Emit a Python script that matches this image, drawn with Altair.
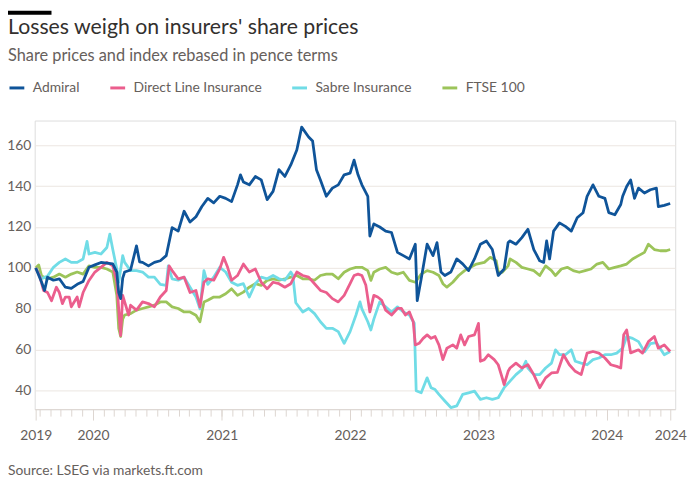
import altair as alt
import pandas as pd

TITLE = "Losses weigh on insurers' share prices"
SUBTITLE = "Share prices and index rebased in pence terms"
SOURCE = "Source: LSEG via markets.ft.com"
SERIES = ["Admiral", "Direct Line Insurance", "Sabre Insurance", "FTSE 100"]
COLORS = ["#0f5499", "#eb5e8d", "#70dce6", "#9cc45a"]
DRAW_ORDER = ["FTSE 100", "Sabre Insurance", "Direct Line Insurance", "Admiral"]
Y_TICKS = [40, 60, 80, 100, 120, 140, 160]
YEAR_TICKS = [2020, 2021, 2022, 2023, 2024]

# (decimal year, rebased value)
ADMIRAL = [(2019.554, 100), (2019.600, 93), (2019.623, 89), (2019.646, 95.5), (2019.692, 94), (2019.738, 94.7),
           (2019.785, 90.6), (2019.831, 90), (2019.877, 92), (2019.923, 93.4), (2019.969, 100.3), (2020.015, 101.5),
           (2020.062, 102.7), (2020.108, 102.4), (2020.154, 102), (2020.185, 98), (2020.200, 88), (2020.215, 85),
           (2020.231, 95), (2020.246, 98), (2020.292, 99), (2020.338, 110.8), (2020.362, 103), (2020.385, 102.7),
           (2020.431, 101), (2020.477, 102.7), (2020.523, 103.5), (2020.569, 106), (2020.615, 119.7), (2020.662, 118),
           (2020.708, 127.7), (2020.754, 122.4), (2020.800, 125), (2020.846, 130), (2020.892, 134), (2020.938, 131.8),
           (2020.985, 135), (2021.031, 134), (2021.077, 132.4), (2021.123, 140.6), (2021.146, 145.5), (2021.169, 142),
           (2021.215, 140.6), (2021.262, 144.7), (2021.308, 143), (2021.354, 133.4), (2021.400, 137.4), (2021.446, 148),
           (2021.492, 144.7), (2021.538, 150.3), (2021.585, 157.6), (2021.623, 168.8), (2021.677, 164), (2021.708, 162),
           (2021.738, 148), (2021.769, 143), (2021.815, 135), (2021.862, 139), (2021.908, 140.6), (2021.954, 145.5),
           (2022.000, 146.3), (2022.031, 152.7), (2022.062, 145.5), (2022.092, 140.6), (2022.138, 135), (2022.154, 115.6),
           (2022.185, 121.5), (2022.231, 120), (2022.277, 118), (2022.323, 117.3), (2022.369, 107.6), (2022.415, 106),
           (2022.462, 104.4), (2022.508, 111.6), (2022.523, 84), (2022.554, 94.7), (2022.600, 111.6), (2022.646, 106),
           (2022.677, 112.4), (2022.708, 98), (2022.738, 96.3), (2022.785, 98), (2022.831, 104.4), (2022.877, 102),
           (2022.923, 98.7), (2022.969, 104.4), (2023.015, 111.6), (2023.062, 113.2), (2023.108, 109), (2023.154, 96.3),
           (2023.200, 99.5), (2023.231, 112.4), (2023.246, 113.2), (2023.292, 111.6), (2023.338, 114.8), (2023.385, 118.9),
           (2023.431, 109), (2023.477, 103.5), (2023.508, 102.7), (2023.531, 113.2), (2023.554, 104.4), (2023.585, 118),
           (2023.631, 122), (2023.677, 120.3), (2023.723, 118), (2023.769, 124.5), (2023.815, 127), (2023.846, 135),
           (2023.892, 140.6), (2023.938, 135), (2023.985, 134), (2024.015, 127), (2024.062, 126), (2024.108, 131),
           (2024.123, 135), (2024.154, 139.8), (2024.185, 143), (2024.215, 134), (2024.246, 139), (2024.292, 136.6),
           (2024.338, 138.2), (2024.385, 139), (2024.400, 130), (2024.446, 130.6), (2024.492, 131.5)]

DIRECT_LINE = [(2019.554, 100), (2019.585, 96), (2019.615, 89), (2019.646, 88), (2019.677, 84), (2019.715, 90.6),
               (2019.738, 88), (2019.762, 82.6), (2019.785, 85.8), (2019.815, 85.8), (2019.831, 81), (2019.877, 85.8),
               (2019.892, 81), (2019.923, 88), (2019.969, 93.9), (2020.015, 98), (2020.062, 100.3), (2020.108, 102.7),
               (2020.154, 101), (2020.185, 93), (2020.200, 80), (2020.215, 67), (2020.231, 86.6), (2020.246, 83.4),
               (2020.277, 77), (2020.292, 81.8), (2020.338, 79.4), (2020.385, 83.4), (2020.431, 82.6), (2020.477, 81),
               (2020.523, 85.8), (2020.569, 89), (2020.592, 101), (2020.615, 98.7), (2020.662, 94.7), (2020.708, 95.5),
               (2020.754, 88), (2020.800, 89), (2020.831, 81), (2020.862, 93), (2020.892, 94.7), (2020.938, 94),
               (2020.985, 99.5), (2021.015, 105.2), (2021.046, 100.3), (2021.077, 94), (2021.123, 96.3), (2021.169, 101.9),
               (2021.215, 98), (2021.262, 99.5), (2021.308, 93), (2021.354, 89.8), (2021.400, 93), (2021.446, 92.3),
               (2021.492, 90.6), (2021.538, 92.3), (2021.585, 98), (2021.631, 96.3), (2021.677, 95.5), (2021.723, 92.3),
               (2021.769, 89), (2021.815, 88), (2021.862, 85), (2021.908, 83.4), (2021.954, 86.6), (2022.000, 92.3),
               (2022.031, 96.3), (2022.062, 97), (2022.092, 96.3), (2022.123, 91.5), (2022.154, 78.5), (2022.185, 86.6),
               (2022.215, 85.8), (2022.246, 84.2), (2022.277, 79.4), (2022.323, 77), (2022.369, 80.2), (2022.400, 80.2),
               (2022.431, 77), (2022.462, 78.5), (2022.492, 73.7), (2022.508, 62.4), (2022.538, 63.2), (2022.569, 65.6),
               (2022.600, 67.3), (2022.631, 65.6), (2022.662, 66.5), (2022.692, 62.4), (2022.723, 55.2), (2022.754, 60.8),
               (2022.800, 62.4), (2022.831, 60.8), (2022.862, 67.3), (2022.892, 62.4), (2022.923, 66.5), (2022.969, 67.3),
               (2023.000, 72.9), (2023.015, 54.4), (2023.046, 55.2), (2023.077, 57.6), (2023.123, 55.2), (2023.154, 52.7),
               (2023.185, 46.3), (2023.200, 43), (2023.231, 49.5), (2023.246, 51.1), (2023.292, 53.5), (2023.338, 51.1),
               (2023.385, 52.7), (2023.431, 47.9), (2023.477, 41.5), (2023.523, 46.3), (2023.569, 48.7), (2023.615, 49),
               (2023.662, 57.6), (2023.708, 52.7), (2023.754, 49.5), (2023.800, 47.9), (2023.846, 58.4), (2023.892, 59.2),
               (2023.938, 58.4), (2023.985, 56), (2024.031, 52.7), (2024.077, 51.9), (2024.108, 51.1), (2024.131, 67.4),
               (2024.154, 69.7), (2024.185, 58.5), (2024.246, 60), (2024.277, 58.4), (2024.323, 64), (2024.369, 66.5),
               (2024.400, 60.8), (2024.446, 62.4), (2024.492, 59.2)]

SABRE = [(2019.554, 100), (2019.600, 94.7), (2019.646, 96), (2019.692, 100.3), (2019.738, 102.7), (2019.785, 104.4),
         (2019.831, 102.7), (2019.877, 102.7), (2019.923, 104.4), (2019.954, 113), (2019.969, 106.8), (2020.015, 107.6),
         (2020.062, 106.8), (2020.108, 110), (2020.131, 116.5), (2020.154, 109), (2020.185, 99.5), (2020.200, 93),
         (2020.231, 106), (2020.246, 102.7), (2020.292, 98.7), (2020.338, 98.7), (2020.385, 98), (2020.431, 95.5),
         (2020.477, 95.5), (2020.523, 92), (2020.569, 91.5), (2020.585, 101), (2020.615, 94.7), (2020.662, 94),
         (2020.708, 95.5), (2020.754, 90.6), (2020.800, 85.8), (2020.831, 80), (2020.862, 98.7), (2020.892, 92),
         (2020.938, 95.5), (2020.985, 100.3), (2021.031, 98), (2021.077, 93), (2021.123, 91.5), (2021.169, 92.3),
         (2021.215, 85.8), (2021.262, 92.3), (2021.308, 95.5), (2021.354, 94.7), (2021.400, 96.3), (2021.446, 94.7),
         (2021.492, 94), (2021.538, 98), (2021.554, 96.3), (2021.577, 83), (2021.631, 78.5), (2021.677, 80.2),
         (2021.723, 77.7), (2021.769, 73.7), (2021.815, 70.5), (2021.862, 70.5), (2021.908, 68.9), (2021.954, 63.2),
         (2022.000, 68.9), (2022.046, 77), (2022.077, 83.4), (2022.092, 80), (2022.138, 73.7), (2022.162, 69.7),
         (2022.185, 75), (2022.231, 83.4), (2022.277, 81), (2022.323, 78.5), (2022.369, 81), (2022.415, 78.5),
         (2022.462, 77), (2022.500, 73), (2022.515, 40), (2022.554, 39), (2022.600, 46.3), (2022.631, 41.5),
         (2022.662, 40.6), (2022.692, 38.2), (2022.738, 35), (2022.785, 31.8), (2022.831, 32.6), (2022.877, 38.2),
         (2022.923, 39), (2022.969, 39.8), (2023.015, 35.8), (2023.062, 36.6), (2023.108, 35.8), (2023.154, 36.6),
         (2023.200, 41.5), (2023.246, 44.7), (2023.292, 47.9), (2023.338, 50.3), (2023.369, 54.4), (2023.385, 51.1),
         (2023.431, 47.9), (2023.477, 47.9), (2023.523, 51.1), (2023.569, 53.5), (2023.600, 60), (2023.631, 57.6),
         (2023.677, 57.6), (2023.723, 60), (2023.754, 54.4), (2023.800, 53.5), (2023.846, 52.7), (2023.892, 55.2),
         (2023.938, 56), (2023.985, 57.6), (2024.031, 57.6), (2024.077, 58.4), (2024.123, 60.8), (2024.154, 66.5),
         (2024.200, 65.6), (2024.246, 64), (2024.292, 59), (2024.338, 63), (2024.385, 63.5), (2024.446, 57.6),
         (2024.492, 59.2)]

FTSE = [(2019.554, 100), (2019.577, 101.5), (2019.600, 96), (2019.646, 94.7), (2019.692, 95.5), (2019.738, 97),
        (2019.785, 95.5), (2019.831, 97), (2019.877, 98), (2019.923, 97), (2019.969, 101), (2020.015, 100.3),
        (2020.062, 100.3), (2020.108, 99.5), (2020.154, 98), (2020.185, 86.6), (2020.200, 70.5), (2020.215, 66.5),
        (2020.231, 75), (2020.246, 77), (2020.292, 77.7), (2020.338, 79.4), (2020.385, 80.2), (2020.431, 81),
        (2020.477, 81.8), (2020.523, 83.4), (2020.569, 83.4), (2020.615, 81), (2020.662, 80.2), (2020.708, 78.5),
        (2020.754, 78.5), (2020.800, 76.9), (2020.831, 73.7), (2020.862, 83.4), (2020.892, 84.2), (2020.938, 85.8),
        (2020.985, 85.8), (2021.031, 87.4), (2021.077, 89.8), (2021.123, 86.6), (2021.169, 88.2), (2021.215, 90.6),
        (2021.262, 92.3), (2021.308, 91.5), (2021.354, 93.9), (2021.400, 94.7), (2021.446, 94), (2021.492, 94.7),
        (2021.538, 95.5), (2021.585, 96.3), (2021.631, 94.7), (2021.677, 94.7), (2021.723, 94), (2021.769, 96.3),
        (2021.815, 97), (2021.862, 97), (2021.908, 94.7), (2021.954, 97.9), (2022.000, 99.5), (2022.046, 100.3),
        (2022.092, 100.3), (2022.138, 98.7), (2022.162, 93.9), (2022.185, 97.9), (2022.231, 99.5), (2022.277, 100.3),
        (2022.323, 97.9), (2022.369, 97), (2022.415, 97.9), (2022.462, 93.9), (2022.508, 93), (2022.554, 97),
        (2022.600, 98.7), (2022.646, 97.9), (2022.692, 96.3), (2022.723, 92.3), (2022.754, 90.6), (2022.800, 93),
        (2022.846, 96.3), (2022.892, 98.7), (2022.938, 100.3), (2022.985, 101.9), (2023.046, 102.7), (2023.092, 105.2),
        (2023.138, 103.5), (2023.154, 97.9), (2023.185, 97.9), (2023.231, 101), (2023.246, 104.4), (2023.292, 102.7),
        (2023.338, 100.3), (2023.385, 99.5), (2023.431, 98.7), (2023.477, 96.3), (2023.523, 101), (2023.569, 98.7),
        (2023.600, 96.3), (2023.646, 99.5), (2023.692, 100.3), (2023.738, 98.7), (2023.785, 97.9), (2023.831, 98.7),
        (2023.877, 99.5), (2023.923, 101.9), (2023.969, 102.7), (2024.015, 99.5), (2024.062, 100.3), (2024.108, 101),
        (2024.154, 101.9), (2024.200, 104.4), (2024.246, 106), (2024.292, 107.6), (2024.323, 111.6), (2024.369, 109),
        (2024.415, 108.4), (2024.462, 108.4), (2024.492, 109)]

X_DOMAIN = (2019.546, 2024.531)


def to_ts(y):
    yr = int(y)
    a = pd.Timestamp(year=yr, month=1, day=1)
    b = pd.Timestamp(year=yr + 1, month=1, day=1)
    return (a + (b - a) * (y - yr)).round("h")


def to_dt(ts):
    return alt.DateTime(year=ts.year, month=ts.month, date=ts.day, hours=ts.hour)


rows = []
for name, pts in [("Admiral", ADMIRAL), ("Direct Line Insurance", DIRECT_LINE),
                  ("Sabre Insurance", SABRE), ("FTSE 100", FTSE)]:
    for t, v in pts:
        rows.append({"date": to_ts(t), "value": v, "series": name})
df = pd.DataFrame(rows)

start_ts = to_ts(ADMIRAL[0][0])
end_ts = to_ts(ADMIRAL[-1][0])
label_values = [to_dt(start_ts)] + [alt.DateTime(year=y, month=1, date=1) for y in YEAR_TICKS] + [to_dt(end_ts)]
month_values = []
for y in range(2019, 2025):
    for m in range(1, 13):
        ts = pd.Timestamp(year=y, month=m, day=1)
        if start_ts < ts < end_ts:
            month_values.append(alt.DateTime(year=y, month=m, date=1))

GREY = "#66605c"
AXIS_LINE = "#ddd6d0"

x_scale = alt.Scale(domain=[to_dt(to_ts(X_DOMAIN[0])), to_dt(to_ts(X_DOMAIN[1]))])
y_enc = alt.Y("value:Q", scale=alt.Scale(domain=[31, 172], nice=False, zero=False),
              axis=alt.Axis(values=Y_TICKS, domain=False, ticks=False, grid=True, gridColor="#ece6e1",
                            gridWidth=1, labelPadding=4, labelFontSize=14, labelColor=GREY,
                            labelFont="Lato", title=None))
color_enc = alt.Color("series:N", scale=alt.Scale(domain=SERIES, range=COLORS),
                      legend=alt.Legend(title=None, orient="none", legendX=-27, legendY=-42,
                                        direction="horizontal", symbolType="stroke", symbolSize=225,
                                        symbolStrokeWidth=3, labelFont="Lato", labelFontSize=14,
                                        labelColor=GREY, labelOffset=7, columnPadding=24))

main_axis = alt.Axis(values=label_values, format="%Y", orient="bottom", tickSize=11, tickColor=AXIS_LINE,
                     domainColor=AXIS_LINE, labelFont="Lato", labelFontSize=14, labelColor=GREY,
                     labelPadding=9, labelFlush=False, labelOverlap=False, labelBound=False, grid=False,
                     title=None)
month_axis = alt.Axis(values=month_values, orient="bottom", labels=False, tickSize=7, tickColor=AXIS_LINE,
                      domain=False, grid=False, title=None)

base = alt.Chart(df)
layers = [base.mark_line(opacity=0).encode(x=alt.X("date:T", scale=x_scale, axis=month_axis), y=y_enc)]
for i, s in enumerate(DRAW_ORDER):
    layers.append(base.transform_filter(alt.datum.series == s).mark_line(strokeWidth=2.8, strokeJoin="round").encode(
        x=alt.X("date:T", scale=x_scale, axis=main_axis if i == 0 else None),
        y=y_enc, color=color_enc))


def text_layer(txt, y, size, color):
    return alt.Chart(pd.DataFrame({"t": [txt]})).mark_text(
        align="left", baseline="alphabetic", font="Lato", fontSize=size, color=color).encode(
        text="t:N", x=alt.value(-27), y=alt.value(y))


title = text_layer(TITLE, -87.5, 21.5, "#33302e")
subtitle = text_layer(SUBTITLE, -60, 16.5, GREY)
source = text_layer(SOURCE, 359, 14, GREY)
bar = alt.Chart(pd.DataFrame({"a": [0]})).mark_rule(color="#000000", strokeWidth=4).encode(
    x=alt.value(-27), x2=alt.value(17), y=alt.value(-109))

chart = alt.layer(*layers, title, subtitle, source, bar).resolve_axis(x="independent").properties(
    width=648, height=292,
    autosize=alt.AutoSizeParams(type="none"),
    padding={"left": 27, "top": 111, "right": 17, "bottom": 89},
).configure_view(stroke=None).configure(background="#ffffff")

chart.save("out.html", embed_options={"renderer": "svg", "actions": False})
